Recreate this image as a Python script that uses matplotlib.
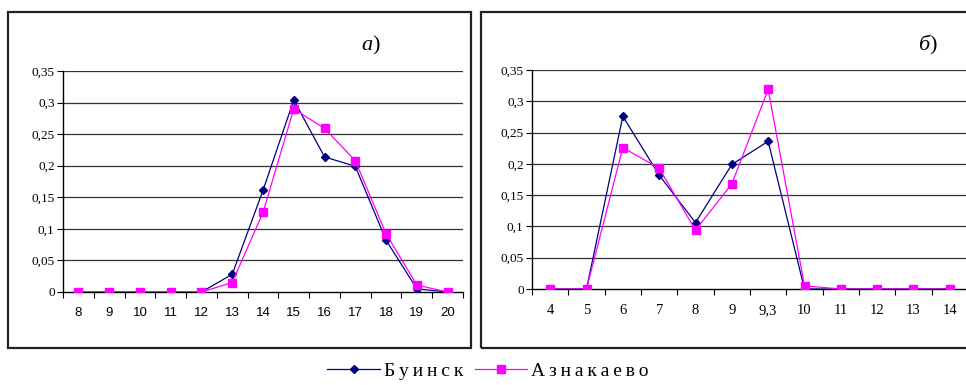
import matplotlib
matplotlib.use("Agg")
import matplotlib.pyplot as plt
from matplotlib.patches import Rectangle

# panel a)
cats_a = ["8", "9", "10", "11", "12", "13", "14", "15", "16", "17", "18", "19", "20"]
buinsk_a = [0, 0, 0, 0, 0, 0.028, 0.161, 0.304, 0.214, 0.199, 0.082, 0.005, 0]
aznak_a = [0, 0, 0, 0, 0, 0.015, 0.126, 0.290, 0.259, 0.208, 0.092, 0.011, 0]

# panel б)
cats_b = ["4", "5", "6", "7", "8", "9", "9,3", "10", "11", "12", "13", "14"]
buinsk_b = [0, 0, 0.276, 0.182, 0.106, 0.199, 0.236, 0, 0, 0, 0, 0]
aznak_b = [0, 0, 0.226, 0.193, 0.094, 0.168, 0.319, 0.005, 0, 0, 0, 0]

yticks = [0, 0.05, 0.1, 0.15, 0.2, 0.25, 0.3, 0.35]
ylabels = ["0", "0,05", "0,1", "0,15", "0,2", "0,25", "0,3", "0,35"]
series_names = ["Буинск", "Азнакаево"]

NAVY = "#000080"
MAG = "#FF00FF"
SERIF = "Liberation Serif"

W, H = 966, 385
fig = plt.figure(figsize=(W / 100, H / 100), dpi=100)


def px(x0, y0, x1, y1):
	"""pixel box (top-left origin) -> figure fraction rect"""
	return [x0 / W, 1 - y1 / H, (x1 - x0) / W, (y1 - y0) / H]


def spaced(s):
	"""letter-spaced legend text"""
	return "\u2009".join(s)


# panel frames
fig.patches.append(Rectangle((8 / W, 1 - 348 / H), 463 / W, 336 / H, transform=fig.transFigure,
	fill=False, lw=1.6, ec="#222222"))
fig.patches.append(Rectangle((481 / W, 1 - 348 / H), 500 / W, 336 / H, transform=fig.transFigure,
	fill=False, lw=1.6, ec="#222222"))


def draw_panel(ax, cats, s1, s2, xfont, xsize):
	n = len(cats)
	xs = list(range(n))
	for y in yticks[1:]:
		ax.axhline(y, color="#333333", lw=0.9, zorder=1)
	ax.plot(xs, s1, color=NAVY, lw=0.9, marker="D", ms=4.5, mfc=NAVY, mec=NAVY, zorder=3,
		label=spaced(series_names[0]))
	ax.plot(xs, s2, color=MAG, lw=0.9, marker="s", ms=5.5, mfc=MAG, mec=MAG, zorder=4,
		label=spaced(series_names[1]))
	ax.set_xlim(-0.5, n - 0.5)
	ax.set_ylim(0, 0.35)
	ax.set_yticks(yticks)
	ax.set_yticklabels(ylabels, fontfamily=SERIF, fontsize=9.5)
	ax.set_xticks([i - 0.5 for i in range(n + 1)])
	ax.set_xticklabels([])
	ax.set_xticks(xs, minor=True)
	ax.set_xticklabels(cats, minor=True, fontfamily=xfont, fontsize=xsize)
	ax.tick_params(axis="x", which="major", direction="out", length=4, width=0.8)
	ax.tick_params(axis="x", which="minor", length=0, pad=11)
	ax.tick_params(axis="y", direction="out", length=4, width=0.8, pad=2)
	for s in ["top", "right"]:
		ax.spines[s].set_visible(False)
	for s in ["left", "bottom"]:
		ax.spines[s].set_linewidth(1.0)
		ax.spines[s].set_color("black")
	ax.patch.set_alpha(0)


ax1 = fig.add_axes(px(63, 71, 463, 292))
draw_panel(ax1, cats_a, buinsk_a, aznak_a, "Liberation Sans", 9.5)
ax2 = fig.add_axes(px(532, 70, 968, 289))
draw_panel(ax2, cats_b, buinsk_b, aznak_b, SERIF, 10.5)

# panel letters
fig.text(372 / W, 1 - 46 / H, "а", fontfamily=SERIF, style="italic", fontsize=16, ha="right", va="center")
fig.text(372 / W, 1 - 46 / H, ")", fontfamily=SERIF, fontsize=16, ha="left", va="center")
fig.text(929 / W, 1 - 46 / H, "б", fontfamily=SERIF, style="italic", fontsize=16, ha="right", va="center")
fig.text(929 / W, 1 - 46 / H, ")", fontfamily=SERIF, fontsize=16, ha="left", va="center")

handles, labels = ax1.get_legend_handles_labels()
fig.legend(handles, labels, loc="center", bbox_to_anchor=(488 / W, 1 - 371 / H), ncol=2,
	frameon=False, prop={"family": SERIF, "size": 14}, handlelength=2.7, handletextpad=0.2,
	columnspacing=0.6, borderaxespad=0, borderpad=0)

fig.savefig("out.png", dpi=100)
